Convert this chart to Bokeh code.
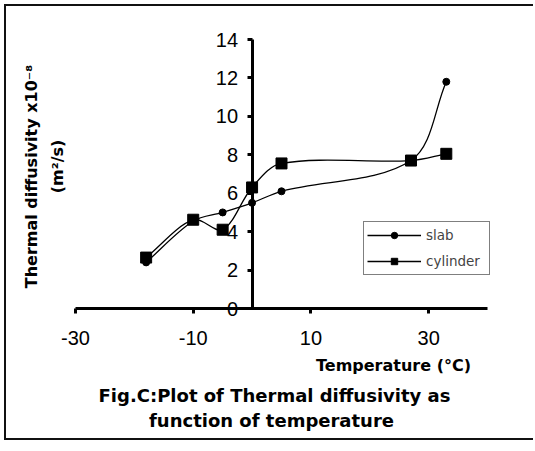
import math
from bokeh.plotting import figure
from bokeh.models import (Range1d, FixedTicker, Label, Legend, LegendItem, ColumnDataSource)
from bokeh.embed import file_html
from bokeh.resources import INLINE

# ---- data ----
temperature = [-18, -10, -5, 0, 5, 27, 33]
slab = [2.4, 4.55, 5.0, 5.5, 6.1, 7.7, 11.8]
cylinder = [2.65, 4.62, 4.1, 6.3, 7.55, 7.7, 8.05]
x_ticks = [-30, -10, 10, 30]
y_ticks = [0, 2, 4, 6, 8, 10, 12, 14]

X0, X1, Y0, Y1 = -30, 40, 0, 14      # axis extents

# ---- layout (pixels) ----
W, H = 529, 436                       # canvas, placed at page (6, 6)
ORG = 6
AX_LEFT, AX_RIGHT, AX_TOP, AX_BOTTOM = 75, 487, 39, 308   # page px of the axes box
PX_X = (AX_RIGHT - AX_LEFT) / (X1 - X0)
PX_Y = (AX_BOTTOM - AX_TOP) / (Y1 - Y0)


def px2x(px):
    return X0 + (px - AX_LEFT) / PX_X


def py2y(py):
    return Y0 + (AX_BOTTOM - py) / PX_Y


def smooth_segments(x, y):
    """Bezier control points for a smoothed line through the data points."""
    n = len(x)
    def dist(i, j):
        return math.hypot((x[j] - x[i]) * PX_X, (y[j] - y[i]) * PX_Y)
    d = dict(x0=[], y0=[], x1=[], y1=[], cx0=[], cy0=[], cx1=[], cy1=[])
    for i in range(n - 1):
        a = i - 1 if i > 0 else i
        b = i + 2 if i + 2 < n else i + 1
        d_prev, d_cur, d_next = dist(a, i), dist(i, i + 1), dist(i + 1, b)
        f0 = d_cur / (d_prev + d_cur) / 3.0
        f1 = d_cur / (d_cur + d_next) / 3.0
        d["x0"].append(x[i]); d["y0"].append(y[i])
        d["x1"].append(x[i + 1]); d["y1"].append(y[i + 1])
        d["cx0"].append(x[i] + (x[i + 1] - x[a]) * f0)
        d["cy0"].append(y[i] + (y[i + 1] - y[a]) * f0)
        d["cx1"].append(x[i + 1] - (x[b] - x[i]) * f1)
        d["cy1"].append(y[i + 1] - (y[b] - y[i]) * f1)
    return ColumnDataSource(d)


p = figure(width=W, height=H, output_backend="svg", toolbar_location=None,
           x_range=Range1d(px2x(ORG), px2x(ORG + W)),
           y_range=Range1d(py2y(ORG + H), py2y(ORG)),
           min_border_left=0, min_border_right=0, min_border_top=0, min_border_bottom=0)
p.styles = {"margin-left": "4px", "margin-top": "4px",
            "border-top": "2px solid #111", "border-left": "2px solid #111",
            "border-bottom": "2px solid #111"}
p.background_fill_color = "white"
p.border_fill_color = "white"
p.outline_line_color = None
p.xgrid.visible = False
p.ygrid.visible = False

for ax in (p.xaxis[0], p.yaxis[0]):
    ax.axis_line_width = 3
    ax.axis_line_color = "black"
    ax.major_tick_line_width = 3
    ax.major_tick_line_color = "black"
    ax.major_tick_in = 0
    ax.major_tick_out = 5
    ax.minor_tick_line_color = None
    ax.major_label_text_font = "Liberation Sans"
    ax.major_label_text_font_size = "20px"
    ax.major_label_text_color = "black"
    ax.fixed_location = 0

p.xaxis.ticker = FixedTicker(ticks=x_ticks)
p.yaxis.ticker = FixedTicker(ticks=y_ticks)
p.xaxis.major_label_overrides = {t: str(t) for t in x_ticks}   # plain hyphen
p.xaxis.bounds = (X0, X1)
p.yaxis.bounds = (Y0, Y1)
p.xaxis.major_label_standoff = 17
p.yaxis.major_label_standoff = 9

# curves
s_src = smooth_segments(temperature, slab)
c_src = smooth_segments(temperature, cylinder)
r_s_line = p.bezier(x0="x0", y0="y0", x1="x1", y1="y1", cx0="cx0", cy0="cy0",
                    cx1="cx1", cy1="cy1", source=s_src, line_color="black", line_width=1.3)
r_c_line = p.bezier(x0="x0", y0="y0", x1="x1", y1="y1", cx0="cx0", cy0="cy0",
                    cx1="cx1", cy1="cy1", source=c_src, line_color="black", line_width=1.3)
r_s_pts = p.scatter(temperature, slab, marker="circle", size=7, color="black")
r_c_pts = p.scatter(temperature, cylinder, marker="square", size=11, color="black")

legend = Legend(items=[LegendItem(label="slab", renderers=[r_s_line, r_s_pts]),
                       LegendItem(label="cylinder", renderers=[r_c_line, r_c_pts])],
                location=(363 - ORG, ORG + H - 275), orientation="vertical",
                glyph_width=54, glyph_height=16, label_height=20, label_width=60,
                label_standoff=5, spacing=6, padding=3, margin=0,
                label_text_font="DejaVu Sans", label_text_font_size="13.5px",
                border_line_color="black", border_line_width=1.5,
                background_fill_color="white", background_fill_alpha=1)
p.add_layout(legend)


def lab(text, px, py, size, angle=0.0):
    p.add_layout(Label(x=px2x(px), y=py2y(py), text=text,
                       angle=angle, text_align="center", text_baseline="middle",
                       text_font="DejaVu Sans", text_font_style="bold", text_font_size=size,
                       text_color="black"))

lab("Thermal diffusivity x10\u207b\u2078", 31, 176, "16px", angle=math.pi / 2)
lab("(m\u00b2/s)", 57, 166, "16px", angle=math.pi / 2)
lab("Temperature (\u00b0C)", 393, 365, "16px")
lab("Fig.C:Plot of Thermal diffusivity as", 274, 395, "18px")
lab("function of temperature", 271, 420, "18px")

open("out.html", "w").write(file_html(p, INLINE))
